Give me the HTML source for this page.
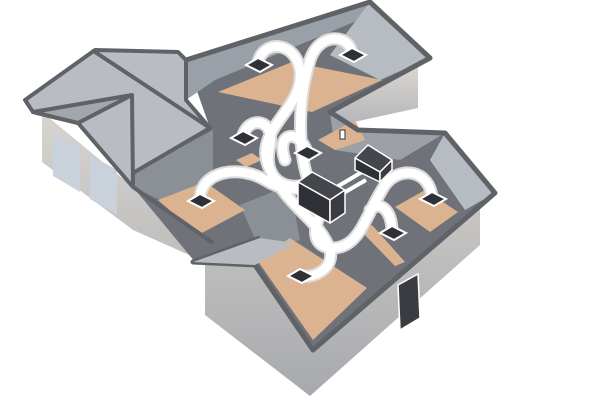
<!DOCTYPE html>
<html><head><style>html,body{margin:0;padding:0;background:#fff;}svg{display:block}</style></head>
<body>
<svg width="600" height="400" viewBox="0 0 600 400" xmlns="http://www.w3.org/2000/svg">
<defs>
<linearGradient id="w" x1="0" y1="0" x2="0" y2="1"><stop offset="0" stop-color="#d8d4cf"/><stop offset="1" stop-color="#a7a9ad"/></linearGradient>
<linearGradient id="w2" x1="0" y1="0" x2="0" y2="1"><stop offset="0" stop-color="#ddd8d2"/><stop offset="1" stop-color="#b4b6ba"/></linearGradient>
</defs>
<!-- outer walls -->
<polygon points="42,112 42,162 133,230 205,262 205,315 310,396 480,245 480,195 300,250 133,187" fill="url(#w)"/>
<polygon points="418,62 418,108 340,125 330,112" fill="url(#w2)"/>
<!-- garage doors -->
<polygon points="53,133 80,148 80,192 53,176" fill="#c9d2db"/>
<polygon points="90,155 117,170 117,215 90,199" fill="#c9d2db"/>
<!-- interior dark floor -->
<polygon points="186,60 370,2 430,58 330,112 358,130 445,133 495,193 313,350 255,265 195,262 133,187 133,173 210,128" fill="#6f7379"/>
<!-- lighter wall surfaces inside -->
<polygon points="186,60 370,2 378,12 215,80 186,100" fill="#9aa0a7"/>
<polygon points="370,2 430,58 380,80 330,55" fill="#b7bcc2"/>
<polygon points="330,112 358,130 445,133 400,160 335,150" fill="#9ca1a8"/>
<polygon points="445,133 495,193 465,210 430,160" fill="#b7bcc2"/>
<polygon points="133,173 213,130 213,180 160,200 133,187" fill="#8b9097"/>
<polygon points="240,205 290,185 300,240 260,250" fill="#8b9097"/>
<!-- tan floors -->
<polygon points="218,92 292,62 382,80 312,112" fill="#dcb391"/>
<polygon points="158,200 205,182 245,210 198,235" fill="#dcb391"/>
<polygon points="257,260 290,238 367,288 313,340" fill="#dcb391"/>
<polygon points="395,207 425,190 458,212 430,232" fill="#dcb391"/>
<polygon points="360,230 372,225 405,262 395,266" fill="#dcb391"/>
<polygon points="236,160 252,153 262,160 246,167" fill="#dcb391"/>
<polygon points="318,140 355,120 365,140 335,150" fill="#dcb391"/>
<!-- left edge line -->
<polyline points="133,187 213,243" fill="none" stroke="#5f6368" stroke-width="4"/>
<!-- garage roof -->
<polygon points="25,100 95,50 178,52 186,60 186,100 210,128 133,173 133,187 78,123 33,112" fill="#b9bdc3" stroke="#5f6368" stroke-width="4" stroke-linejoin="round"/>
<polyline points="95,52 210,128" fill="none" stroke="#5f6368" stroke-width="4"/>
<polygon points="33,112 132,95 78,123" fill="#a2a7ae" stroke="#5f6368" stroke-width="4" stroke-linejoin="round"/>
<polyline points="132,95 133,187" fill="none" stroke="#5f6368" stroke-width="4"/>
<!-- outer roof edges -->
<polyline points="186,60 370,2 430,58 330,112 358,130 445,133 495,193 313,350 255,265 193,262 260,238" fill="none" stroke="#5f6368" stroke-width="5" stroke-linejoin="round"/>
<polygon points="193,262 260,238 295,243 255,265" fill="#b9bdc3"/>
<!-- ducts -->
<g fill="none" stroke-linecap="round">
<g stroke="#dcdcdc" stroke-width="13">
<path d="M258,63 C262,40 295,40 300,70 C305,110 250,130 270,170 C290,210 320,220 330,250 C335,270 310,280 300,275"/>
<path d="M352,55 C352,35 320,30 310,60 C295,110 300,160 310,185"/>
<path d="M243,135 C250,115 275,120 270,145 C262,180 285,190 305,185"/>
<path d="M307,152 C300,130 275,130 285,160"/>
<path d="M200,200 C200,170 240,165 265,180 C290,195 300,185 305,190"/>
<path d="M432,198 C430,170 400,165 385,185 C365,215 360,250 330,248 C310,245 315,225 320,215"/>
<path d="M392,232 C392,210 380,200 370,210"/>
</g>
<g stroke="#fff" stroke-width="9">
<path d="M258,63 C262,40 295,40 300,70 C305,110 250,130 270,170 C290,210 320,220 330,250 C335,270 310,280 300,275"/>
<path d="M352,55 C352,35 320,30 310,60 C295,110 300,160 310,185"/>
<path d="M243,135 C250,115 275,120 270,145 C262,180 285,190 305,185"/>
<path d="M307,152 C300,130 275,130 285,160"/>
<path d="M200,200 C200,170 240,165 265,180 C290,195 300,185 305,190"/>
<path d="M432,198 C430,170 400,165 385,185 C365,215 360,250 330,248 C310,245 315,225 320,215"/>
<path d="M392,232 C392,210 380,200 370,210"/>
</g>
</g>
<!-- vents -->
<g fill="#2f3136" stroke="#fff" stroke-width="2">
<polygon points="246,65 258,58 272,65 260,72"/>
<polygon points="340,55 352,48 366,55 354,62"/>
<polygon points="231,138 243,131 257,138 245,145"/>
<polygon points="295,153 307,146 321,153 309,160"/>
<polygon points="188,201 200,194 214,201 202,208"/>
<polygon points="420,199 432,192 446,199 434,206"/>
<polygon points="380,233 392,226 406,233 394,240"/>
<polygon points="288,276 300,269 314,276 302,283"/>
</g>
<line x1="335" y1="188" x2="362" y2="172" stroke="#fff" stroke-width="4"/>
<line x1="340" y1="195" x2="366" y2="180" stroke="#fff" stroke-width="4"/>
<!-- units -->
<g stroke="#fff" stroke-width="1.5" stroke-linejoin="round">
<polygon points="355,158 368,145 392,160 380,172" fill="#45474c"/>
<polygon points="355,158 380,172 380,182 355,170" fill="#2f3136"/>
<polygon points="380,172 392,160 392,170 380,182" fill="#3a3c41"/>
<polygon points="298,182 312,172 345,190 330,200" fill="#45474c"/>
<polygon points="298,182 330,200 330,223 298,205" fill="#2f3136"/>
<polygon points="330,200 345,190 345,213 330,223" fill="#3a3c41"/>
</g>
<polygon points="398,285 418,274 420,318 400,330" fill="#3a3c41" stroke="#fff" stroke-width="1.5"/>
<rect x="340" y="130" width="5" height="9" fill="#fff" stroke="#333"/>
</svg>
</body></html>
